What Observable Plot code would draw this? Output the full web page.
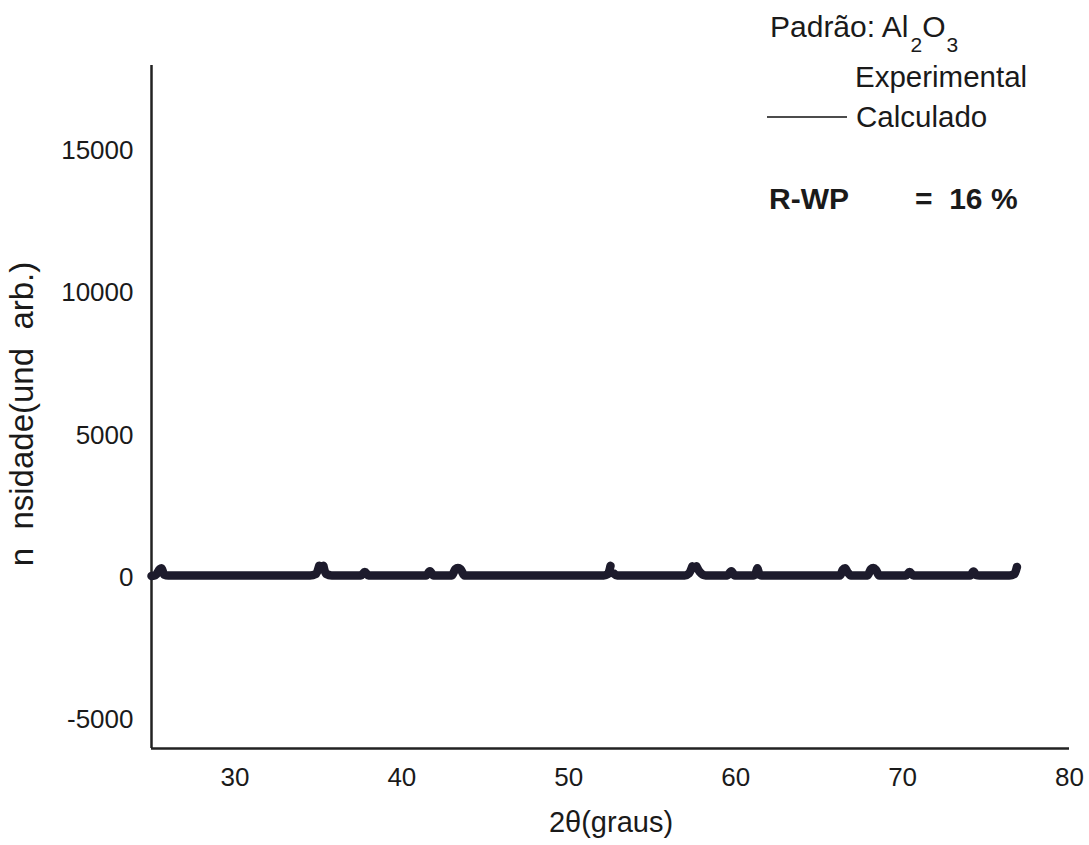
<!DOCTYPE html>
<html>
<head>
<meta charset="utf-8">
<script src="https://cdn.jsdelivr.net/npm/d3@7"></script>
<script src="https://cdn.jsdelivr.net/npm/@observablehq/plot@0.6"></script>
<style>
  html, body { margin: 0; padding: 0; background: #ffffff; }
  #chart { width: 1089px; height: 845px; }
</style>
</head>
<body>
<div id="chart"></div>
<script>
// 2θ (degrees) and intensity (arb. units); null marks a break in the drawn curve
const twoTheta = [
  25.0, 25.25, 25.5, 25.6, 25.75, 26.0,
  34.5, 34.85, 35.05, 35.15, 35.3, 35.45, 35.8,
  37.55, 37.78, 38.0,
  41.45, 41.68, 41.9,
  43.0, 43.2, 43.36, 43.52, 43.75,
  52.1, 52.35, 52.5, 52.55, 52.7, 52.9,
  56.95, 57.2, 57.4, 57.5, 57.65, 57.85, 58.2,
  59.5, 59.74, 59.95,
  61.05, 61.2, 61.3, 61.4, 61.55,
  66.25, 66.42, 66.55, 66.7, 66.9,
  67.9, 68.1, 68.25, 68.4, 68.6,
  70.2, 70.42, 70.65,
  74.05, 74.25, 74.4, 74.6,
  76.4, 76.7, 76.85
];
const intensity = [
  60, 90, 300, 330, 110, 80,
  80, 130, 420, null, 420, 140, 80,
  80, 200, 80,
  80, 230, 80,
  80, 300, 340, 300, 80,
  80, 130, 420, null, 150, 80,
  80, 150, 400, null, 400, 200, 80,
  80, 230, 80,
  80, 150, 330, 150, 80,
  80, 280, 330, 200, 80,
  80, 300, 340, 280, 80,
  80, 200, 80,
  80, 220, 100, 80,
  80, 130, 380
];
const xTicks = [30, 40, 50, 60, 70, 80];
const yTicks = [-5000, 0, 5000, 10000, 15000];
const xDomain = [25, 80];
const yDomain = [-6000, 18000];

const data = twoTheta.map((t, i) => ({t, v: intensity[i]}));

const font = "'Liberation Sans', Arial, Helvetica, sans-serif";
const ink = "#1a1a1a";
const plain = d => String(d);

const svg = Plot.plot({
  width: 1089,
  height: 845,
  marginLeft: 151,
  marginRight: 20,
  marginTop: 65,
  marginBottom: 97,
  style: {fontFamily: font, fontSize: "26px", color: ink, background: "#ffffff"},
  x: {domain: xDomain, ticks: xTicks, tickSize: 0, tickPadding: 19, label: null, tickFormat: plain},
  y: {domain: yDomain, ticks: yTicks, tickSize: 0, tickPadding: 18, label: null, tickFormat: plain},
  marks: [
    Plot.ruleX([xDomain[0]], {stroke: "#222", strokeWidth: 2.5}),
    Plot.ruleY([yDomain[0]], {stroke: "#222", strokeWidth: 2.5}),
    Plot.line(data, {
      x: "t", y: "v",
      stroke: "#1d1b2c", strokeWidth: 8.5,
      strokeLinejoin: "round", strokeLinecap: "round",
      curve: "monotone-x"
    })
  ]
});

const s = d3.select(svg);

function addText(x, y, str, size, opts = {}) {
  const t = s.append("text")
    .attr("x", x).attr("y", y)
    .attr("text-anchor", opts.anchor || "start")
    .attr("xml:space", "preserve")
    .style("white-space", "pre")
    .style("font-family", font)
    .style("font-size", size + "px")
    .style("font-weight", opts.bold ? "bold" : "normal")
    .attr("fill", ink);
  if (opts.transform) t.attr("transform", opts.transform);
  if (str != null) t.text(str);
  return t;
}

// x axis title
addText(611, 832, "2θ(graus)", 29, {anchor: "middle"});

// y axis title
addText(0, 0, "n  nsidade(und  arb.)", 33, {anchor: "middle", transform: "translate(33,414) rotate(-90)"});

// legend block
const pad = addText(770, 37, null, 30);
pad.append("tspan").text("Padrão: Al");
pad.append("tspan").attr("dx", 2).attr("dy", 15).style("font-size", "21px").text("2");
pad.append("tspan").attr("dy", -15).text("O");
pad.append("tspan").attr("dx", 1).attr("dy", 15).style("font-size", "21px").text("3");

addText(855, 87, "Experimental", 29.5);

s.append("line")
  .attr("x1", 767).attr("x2", 847).attr("y1", 117).attr("y2", 117)
  .attr("stroke", "#111").attr("stroke-width", 1.5);

addText(856, 127, "Calculado", 29.5);

addText(769, 209, "R-WP", 30, {bold: true});
addText(915, 209, "=  16 %", 30, {bold: true});

document.getElementById("chart").appendChild(svg);
</script>
</body>
</html>
